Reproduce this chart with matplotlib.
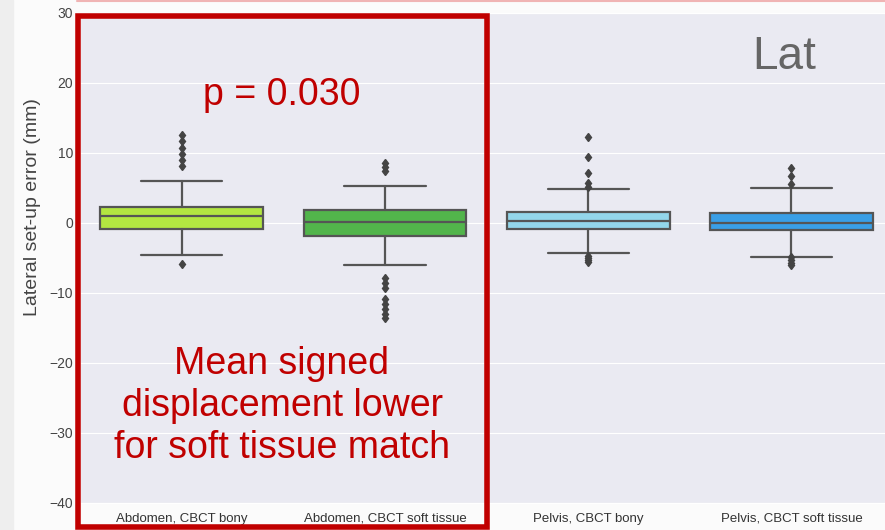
import matplotlib
matplotlib.use("Agg")
import matplotlib.pyplot as plt
import seaborn as sns
from matplotlib.patches import Rectangle

sns.set_style("darkgrid")
plt.rcParams["font.family"] = ["Liberation Sans", "DejaVu Sans"]

# set-up error summary per group (mm)
groups = ["Abdomen, CBCT bony", "Abdomen, CBCT soft tissue",
          "Pelvis, CBCT bony", "Pelvis, CBCT soft tissue"]
q1 = [-0.9, -1.8, -0.9, -1.05]
med = [1.0, 0.15, 0.25, 0.0]
q3 = [2.3, 1.8, 1.55, 1.4]
whislo = [-4.6, -6.0, -4.3, -4.8]
whishi = [6.0, 5.3, 4.9, 5.0]
fliers = [
    [12.6, 11.7, 10.7, 9.8, 9.0, 8.2, -5.8],
    [8.6, 8.0, 7.5, -7.8, -8.6, -9.3, -10.8, -11.5, -12.3, -13.0, -13.6],
    [12.3, 9.5, 7.2, 5.7, 5.2, -4.7, -5.0, -5.3, -5.6],
    [7.9, 6.7, 5.6, -4.9, -5.3, -5.7, -6.0],
]
colors = ["#b3e641", "#52b54b", "#93d6ea", "#3a9fe6"]
yticks = [-40, -30, -20, -10, 0, 10, 20, 30]

fig = plt.figure(figsize=(8.85, 5.3), dpi=100, facecolor="#fbfbfb")
fig.add_artist(Rectangle((0, 0), 13 / 885, 1, transform=fig.transFigure,
                         color="#eeeeee", zorder=-5))
ax = fig.add_axes([80 / 885, 1 - 503 / 530, 1 - 80 / 885, 490 / 530])

stats = []
for i, g in enumerate(groups):
    stats.append(dict(label=g, q1=q1[i], med=med[i], q3=q3[i],
                      whislo=whislo[i], whishi=whishi[i], fliers=fliers[i]))

edge = "#555555"
bp = ax.bxp(stats, positions=range(len(groups)), widths=0.8, patch_artist=True,
            boxprops=dict(edgecolor=edge, linewidth=1.6),
            medianprops=dict(color=edge, linewidth=1.6),
            whiskerprops=dict(color=edge, linewidth=1.6),
            capprops=dict(color=edge, linewidth=1.6),
            flierprops=dict(marker="d", markersize=4.5, markerfacecolor="#444444",
                            markeredgecolor="#444444"))
for box, c in zip(bp["boxes"], colors):
    box.set_facecolor(c)

ax.set_xlim(-0.5, 3.46)
ax.set_ylim(-40, 30)
ax.set_yticks(yticks)
ax.set_yticklabels(["\u2212" + str(-t) if t < 0 else str(t) for t in yticks])
ax.set_xticks(range(len(groups)))
ax.set_xticklabels(groups)
ax.grid(axis="x", visible=False)
ax.tick_params(axis="y", labelsize=10, labelcolor="#444444", pad=5, length=0)
ax.tick_params(axis="x", labelsize=9.5, labelcolor="#333333", pad=7, length=0)
ax.set_ylabel("Lateral set-up error (mm)", fontsize=14, color="#444444")
ax.yaxis.set_label_coords(-0.048, 0.604)

# highlight frame around the abdomen pair
fig.add_artist(Rectangle((77.5 / 885, 1 - 527 / 530), (487 - 77.5) / 885,
                         (527 - 15.5) / 530, transform=fig.transFigure,
                         fill=False, edgecolor="#c00000", linewidth=4, zorder=10))
fig.add_artist(plt.Line2D([77 / 885, 1], [0.998, 0.998], transform=fig.transFigure,
                          color="#f0b4b4", linewidth=1.5, zorder=10))

fig.text(282 / 885, 1 - 95 / 530, "p = 0.030", color="#c00000", fontsize=27,
         ha="center", va="center")
fig.text(282 / 885, 1 - 406 / 530,
         "Mean signed\ndisplacement lower\nfor soft tissue match",
         color="#c00000", fontsize=27, ha="center", va="center",
         multialignment="center")
fig.text(784 / 885, 1 - 57 / 530, "Lat", color="#666666", fontsize=33,
         ha="center", va="center")

fig.savefig("out.png", dpi=100, facecolor=fig.get_facecolor())
